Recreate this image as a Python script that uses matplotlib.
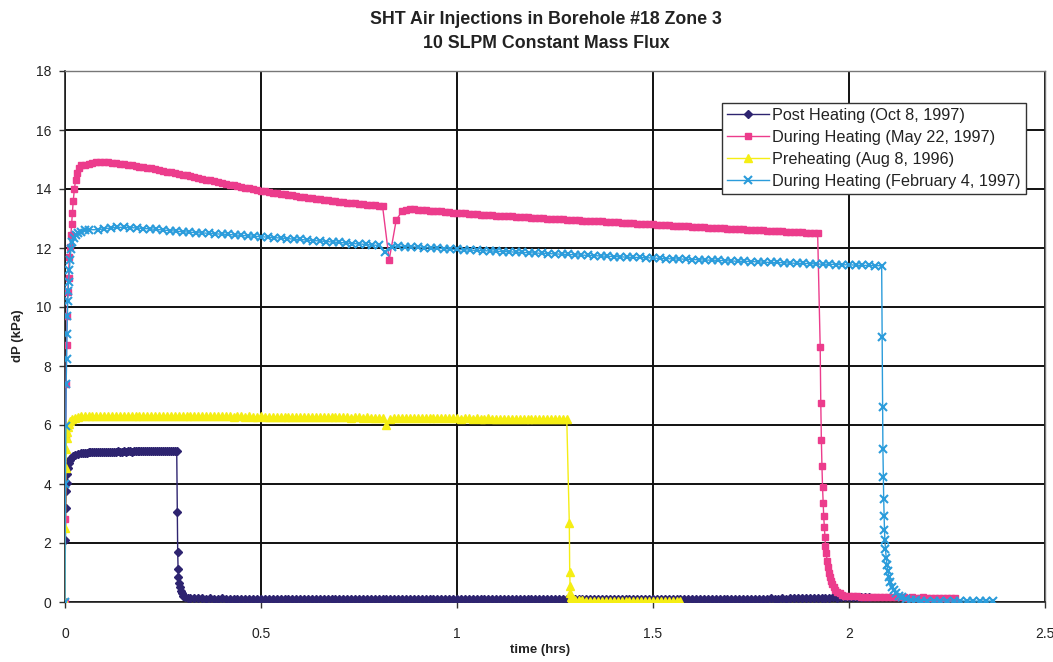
import numpy as np
import matplotlib
matplotlib.use("Agg")
import matplotlib.pyplot as plt

# ---------------- data ----------------
# Post Heating (Oct 8, 1997)
post_rise_t = [0, 0.001, 0.002, 0.003, 0.004, 0.005, 0.007, 0.009, 0.012, 0.016, 0.02, 0.026, 0.032, 0.04]
post_rise_v = [0, 2.1, 3.2, 3.75, 4.05, 4.35, 4.55, 4.7, 4.8, 4.88, 4.95, 5.0, 5.03, 5.05]
post_plat_start, post_plat_step = 0.045, 0.005
post_plat_v = [5.05, 5.06, 5.06, 5.07, 5.07, 5.08, 5.07, 5.08, 5.09, 5.08,
               5.09, 5.09, 5.10, 5.09, 5.10, 5.10, 5.09, 5.10, 5.11, 5.10,
               5.10, 5.11, 5.10, 5.11, 5.11, 5.10, 5.11, 5.12, 5.11, 5.11,
               5.12, 5.11, 5.12, 5.12, 5.11, 5.12, 5.12, 5.13, 5.12, 5.12,
               5.13, 5.12, 5.13, 5.13, 5.12, 5.13, 5.13, 5.12, 5.13]
post_drop_t = [0.2865, 0.2875, 0.2885, 0.2895, 0.291, 0.293, 0.295, 0.298, 0.302, 0.307, 0.313, 0.32]
post_drop_v = [3.05, 1.7, 1.12, 0.85, 0.65, 0.5, 0.38, 0.3, 0.22, 0.17, 0.14, 0.13]
post_tail_start, post_tail_step = 0.33, 0.01
post_tail_v = [0.13, 0.12, 0.12, 0.11, 0.12, 0.11, 0.11, 0.12, 0.11, 0.10,
               0.11, 0.11, 0.10, 0.11, 0.10, 0.11, 0.10, 0.10, 0.11, 0.10,
               0.10, 0.11, 0.10, 0.10, 0.11, 0.10, 0.09, 0.10, 0.10, 0.11,
               0.10, 0.09, 0.10, 0.10, 0.09, 0.10, 0.11, 0.10, 0.09, 0.10,
               0.10, 0.09, 0.10, 0.10, 0.09, 0.10, 0.10, 0.09, 0.10, 0.09,
               0.10, 0.10, 0.09, 0.10, 0.09, 0.10, 0.10, 0.09, 0.10, 0.10,
               0.09, 0.10, 0.09, 0.10, 0.10, 0.09, 0.10, 0.09, 0.10, 0.10,
               0.09, 0.10, 0.10, 0.09, 0.10, 0.09, 0.10, 0.10, 0.09, 0.10,
               0.10, 0.09, 0.10, 0.10, 0.09, 0.10, 0.09, 0.10, 0.10, 0.09,
               0.10, 0.10, 0.09, 0.10, 0.09, 0.10, 0.10, 0.09, 0.10, 0.10,
               0.09, 0.10, 0.10, 0.09, 0.10, 0.10, 0.09, 0.10, 0.09, 0.10,
               0.10, 0.09, 0.10, 0.10, 0.09, 0.10, 0.10, 0.09, 0.10, 0.10,
               0.09, 0.10, 0.10, 0.09, 0.10, 0.09, 0.10, 0.10, 0.09, 0.10,
               0.10, 0.09, 0.10, 0.10, 0.11, 0.10, 0.10, 0.11, 0.10, 0.10,
               0.11, 0.10, 0.11, 0.11, 0.10, 0.11, 0.11, 0.12, 0.11, 0.11,
               0.12, 0.11, 0.12, 0.12, 0.13, 0.12, 0.13, 0.14, 0.13, 0.14,
               0.15, 0.14, 0.15, 0.16, 0.15, 0.16, 0.17, 0.16, 0.17, 0.16,
               0.17, 0.16, 0.17]

# During Heating (May 22, 1997)
may_rise_t = [0, 0.001, 0.002, 0.003, 0.004, 0.005, 0.007, 0.009, 0.011, 0.013,
              0.015, 0.017, 0.019, 0.021, 0.024, 0.027, 0.031, 0.036, 0.042, 0.05]
may_rise_v = [0, 2.8, 5.65, 7.4, 8.7, 9.7, 10.5, 11.0, 11.7, 12.05,
              12.45, 12.8, 13.2, 13.6, 14.0, 14.3, 14.55, 14.7, 14.8, 14.83]
may_platA_start, may_plat_step = 0.06, 0.01
may_platA_v = [14.85, 14.88, 14.90, 14.92, 14.91, 14.90, 14.89, 14.88, 14.86, 14.84,
               14.82, 14.80, 14.78, 14.76, 14.74, 14.72, 14.70, 14.67, 14.65, 14.62,
               14.59, 14.57, 14.54, 14.51, 14.48, 14.46, 14.43, 14.40, 14.37, 14.35,
               14.32, 14.29, 14.26, 14.24, 14.21, 14.18, 14.15, 14.13, 14.10, 14.07,
               14.04, 14.02, 13.99, 13.96, 13.94, 13.92, 13.90, 13.88, 13.86, 13.84,
               13.82, 13.80, 13.78, 13.76, 13.74, 13.72, 13.70, 13.69, 13.67, 13.65,
               13.63, 13.62, 13.60, 13.58, 13.57, 13.55, 13.54, 13.52, 13.51, 13.49,
               13.48, 13.47, 13.46, 13.45, 13.44, 13.43]
may_dip_t = [0.827, 0.845]
may_dip_v = [11.6, 12.95]
may_platB_start = 0.86
may_platB_v = [13.25, 13.30, 13.31, 13.31, 13.30, 13.29, 13.28, 13.27, 13.26, 13.25,
               13.24, 13.22, 13.21, 13.20, 13.19, 13.18, 13.17, 13.16, 13.15, 13.14,
               13.13, 13.12, 13.12, 13.11, 13.10, 13.09, 13.08, 13.08, 13.07, 13.06,
               13.05, 13.05, 13.04, 13.03, 13.02, 13.02, 13.01, 13.00, 12.99, 12.99,
               12.98, 12.97, 12.96, 12.96, 12.95, 12.94, 12.93, 12.93, 12.92, 12.91,
               12.90, 12.90, 12.89, 12.88, 12.87, 12.87, 12.86, 12.85, 12.84, 12.84,
               12.83, 12.82, 12.81, 12.81, 12.80, 12.79, 12.78, 12.78, 12.77, 12.76,
               12.75, 12.75, 12.74, 12.73, 12.72, 12.72, 12.71, 12.70, 12.69, 12.69,
               12.68, 12.67, 12.67, 12.66, 12.65, 12.64, 12.64, 12.63, 12.62, 12.62,
               12.61, 12.60, 12.60, 12.59, 12.58, 12.57, 12.57, 12.56, 12.55, 12.55,
               12.54, 12.53, 12.53, 12.52, 12.51, 12.51, 12.50]
may_drop_t = [1.9265, 1.928, 1.9295, 1.931, 1.9325, 1.934, 1.9355, 1.937, 1.9385, 1.940, 1.942,
              1.944, 1.946, 1.948, 1.951, 1.954, 1.957, 1.961, 1.965, 1.970, 1.976, 1.983, 1.99, 2.0]
may_drop_v = [8.65, 6.75, 5.5, 4.6, 3.9, 3.35, 2.9, 2.55, 2.2, 1.9, 1.65,
              1.4, 1.2, 1.0, 0.85, 0.72, 0.6, 0.5, 0.42, 0.35, 0.3, 0.25, 0.22, 0.2]
may_tail_start = 2.01
may_tail_v = [0.19, 0.19, 0.18, 0.18, 0.18, 0.17, 0.17, 0.17, 0.17, 0.16,
              0.16, 0.16, 0.16, 0.16, 0.15, 0.16, 0.15, 0.15, 0.16, 0.15,
              0.15, 0.15, 0.15, 0.15, 0.15, 0.15, 0.15]

# Preheating (Aug 8, 1996)
pre_rise_t = [0, 0.001, 0.002, 0.003, 0.004, 0.005, 0.007, 0.01, 0.014, 0.019, 0.025, 0.032, 0.04]
pre_rise_v = [0, 2.5, 4.55, 5.2, 5.55, 5.75, 5.92, 6.05, 6.13, 6.2, 6.24, 6.27, 6.29]
pre_plat_start, pre_step = 0.05, 0.01
pre_plat_v = [6.30, 6.31, 6.31, 6.32, 6.31, 6.32, 6.32, 6.31, 6.32, 6.32,
              6.31, 6.32, 6.32, 6.31, 6.31, 6.32, 6.31, 6.31, 6.30, 6.31,
              6.31, 6.30, 6.31, 6.30, 6.30, 6.31, 6.30, 6.30, 6.29, 6.30,
              6.30, 6.29, 6.30, 6.29, 6.29, 6.30, 6.29, 6.29, 6.28, 6.29,
              6.29, 6.28, 6.29, 6.28, 6.28, 6.29, 6.28, 6.28, 6.27, 6.28,
              6.28, 6.27, 6.28, 6.27, 6.27, 6.28, 6.27, 6.27, 6.26, 6.27,
              6.27, 6.26, 6.27, 6.26, 6.26, 6.27, 6.26, 6.26, 6.25, 6.26,
              6.26, 6.25, 6.26, 6.25, 6.25, 6.25, 6.24, 6.00, 6.20, 6.24,
              6.25, 6.24, 6.24, 6.25, 6.24, 6.24, 6.23, 6.24, 6.24, 6.23,
              6.24, 6.23, 6.23, 6.24, 6.23, 6.23, 6.22, 6.23, 6.23, 6.22,
              6.23, 6.22, 6.22, 6.23, 6.22, 6.22, 6.21, 6.22, 6.22, 6.21,
              6.22, 6.21, 6.21, 6.22, 6.21, 6.21, 6.20, 6.21, 6.21, 6.20,
              6.21, 6.20, 6.20, 6.20]
pre_drop_t = [1.2865, 1.2875, 1.2885, 1.2895, 1.291, 1.293, 1.296, 1.30]
pre_drop_v = [2.68, 1.02, 0.55, 0.3, 0.18, 0.12, 0.09, 0.07]
pre_tail_start = 1.31
pre_tail_v = [0.06, 0.06, 0.05, 0.05, 0.05, 0.05, 0.04, 0.05, 0.04, 0.04,
              0.05, 0.04, 0.04, 0.04, 0.04, 0.04, 0.03, 0.04, 0.04, 0.03,
              0.04, 0.03, 0.03, 0.04, 0.03, 0.03, 0.03]

# During Heating (February 4, 1997)
feb_rise_t = [0, 0.001, 0.002, 0.003, 0.004, 0.005, 0.006, 0.007, 0.008, 0.009,
              0.011, 0.013, 0.015, 0.018, 0.022, 0.027, 0.033, 0.04, 0.05, 0.06]
feb_rise_v = [0, 4.0, 5.95, 7.4, 8.25, 9.1, 9.7, 10.2, 10.55, 10.85,
              11.25, 11.6, 11.95, 12.2, 12.35, 12.45, 12.5, 12.55, 12.6, 12.62]
feb_plat_first_min = 5          # plateau sampled once a minute
feb_plat_v = [12.62, 12.65, 12.68, 12.70, 12.70, 12.69, 12.68, 12.66, 12.65, 12.63,
              12.61, 12.59, 12.57, 12.55, 12.54, 12.52, 12.51, 12.50, 12.48, 12.47,
              12.46, 12.44, 12.43, 12.41, 12.40, 12.38, 12.37, 12.35, 12.34, 12.32,
              12.30, 12.29, 12.27, 12.25, 12.24, 12.22, 12.20, 12.19, 12.17, 12.15,
              12.14, 12.12, 12.10, 12.09, 11.85, 12.05, 12.06, 12.05, 12.04, 12.03,
              12.01, 12.00, 11.99, 11.98, 11.96, 11.95, 11.94, 11.93, 11.92, 11.91,
              11.90, 11.89, 11.88, 11.87, 11.86, 11.85, 11.84, 11.83, 11.82, 11.81,
              11.80, 11.79, 11.78, 11.77, 11.76, 11.75, 11.74, 11.73, 11.72, 11.71,
              11.70, 11.69, 11.68, 11.68, 11.67, 11.66, 11.65, 11.64, 11.63, 11.63,
              11.62, 11.61, 11.60, 11.59, 11.59, 11.58, 11.57, 11.56, 11.55, 11.55,
              11.54, 11.53, 11.52, 11.51, 11.51, 11.50, 11.49, 11.48, 11.48, 11.47,
              11.46, 11.45, 11.45, 11.44, 11.43, 11.43, 11.42, 11.41, 11.41, 11.40,
              11.40]
feb_drop_t = [2.0845, 2.0855, 2.0865, 2.0875, 2.0885, 2.0895, 2.0905, 2.0915, 2.093, 2.095, 2.097,
              2.099, 2.102, 2.105, 2.109, 2.114, 2.12, 2.127, 2.135, 2.145, 2.157, 2.17]
feb_drop_v = [8.98, 6.6, 5.2, 4.25, 3.5, 2.9, 2.45, 2.1, 1.8, 1.5, 1.25,
              1.05, 0.85, 0.68, 0.52, 0.4, 0.3, 0.22, 0.16, 0.11, 0.08, 0.06]
feb_tail_first_min = 131
feb_tail_v = [0.05, 0.05, 0.04, 0.04, 0.04, 0.03, 0.04, 0.03, 0.03, 0.03, 0.03, 0.03]

labels = ["Post Heating (Oct 8, 1997)", "During Heating (May 22, 1997)",
          "Preheating (Aug 8, 1996)", "During Heating (February 4, 1997)"]
title_lines = ["SHT Air Injections in Borehole #18 Zone 3", "10 SLPM Constant Mass Flux"]


def regular(start, step, vals):
    return list(start + step * np.arange(len(vals)))


post_t = post_rise_t + regular(post_plat_start, post_plat_step, post_plat_v) + post_drop_t + \
    regular(post_tail_start, post_tail_step, post_tail_v)
post_v = post_rise_v + post_plat_v + post_drop_v + post_tail_v

may_t = may_rise_t + regular(may_platA_start, may_plat_step, may_platA_v) + may_dip_t + \
    regular(may_platB_start, may_plat_step, may_platB_v) + may_drop_t + \
    regular(may_tail_start, may_plat_step, may_tail_v)
may_v = may_rise_v + may_platA_v + may_dip_v + may_platB_v + may_drop_v + may_tail_v

pre_t = pre_rise_t + regular(pre_plat_start, pre_step, pre_plat_v) + pre_drop_t + \
    regular(pre_tail_start, pre_step, pre_tail_v)
pre_v = pre_rise_v + pre_plat_v + pre_drop_v + pre_tail_v

feb_t = feb_rise_t + regular(feb_plat_first_min / 60, 1 / 60, feb_plat_v) + feb_drop_t + \
    regular(feb_tail_first_min / 60, 1 / 60, feb_tail_v)
feb_v = feb_rise_v + feb_plat_v + feb_drop_v + feb_tail_v

# ---------------- drawing ----------------
W, H = 1053, 662
fig = plt.figure(figsize=(W / 100, H / 100), dpi=100)
L, R, T, B = 65, 1045, 71, 602
ax = fig.add_axes([L / W, 1 - B / H, (R - L) / W, (B - T) / H])

c_post = "#2e2470"
c_may = "#ec3c8c"
c_pre = "#f5ee14"
c_feb = "#2b9cdb"

ax.plot(post_t, post_v, color=c_post, lw=1.0, marker="D", ms=4.3, mec=c_post, mfc=c_post, label=labels[0], zorder=3)
ax.plot(may_t, may_v, color=c_may, lw=1.0, marker="s", ms=4.8, mec=c_may, mfc=c_may, label=labels[1], zorder=3)
ax.plot(pre_t, pre_v, color=c_pre, lw=1.0, marker="^", ms=5.5, mec=c_pre, mfc=c_pre, label=labels[2], zorder=3)
ax.plot(feb_t, feb_v, color=c_feb, lw=1.0, marker="x", ms=5.5, mew=1.5, mec=c_feb, label=labels[3], zorder=3)

ax.set_xlim(0, 2.5)
ax.set_ylim(0, 18)
ax.set_xticks([0, 0.5, 1, 1.5, 2, 2.5])
ax.set_xticklabels(["0", "0.5", "1", "1.5", "2", "2.5"])
ax.set_yticks(np.arange(0, 19, 2))
ax.grid(True, color="#111111", lw=1.4, zorder=1)
ax.set_axisbelow(True)

tick_family = ["Liberation Sans", "DejaVu Sans"]
for lab in ax.get_xticklabels() + ax.get_yticklabels():
    lab.set_fontfamily(tick_family)
    lab.set_fontsize(10)
    lab.set_color("#222222")
ax.tick_params(axis="both", direction="out", length=4, width=1, color="#333333")
ax.tick_params(axis="x", pad=14)
ax.tick_params(axis="y", pad=6)

for s in ["left", "bottom"]:
    ax.spines[s].set_color("#222222")
    ax.spines[s].set_linewidth(1.2)
for s in ["top", "right"]:
    ax.spines[s].set_color("#777777")
    ax.spines[s].set_linewidth(1.0)

bold_family = ["Liberation Sans", "DejaVu Sans"]
fig.text(546 / W, 1 - 19 / H, title_lines[0], ha="center", va="center", fontsize=12.8,
         fontweight="bold", family=bold_family, color="#222222")
fig.text(546 / W, 1 - 43 / H, title_lines[1], ha="center", va="center", fontsize=12.8,
         fontweight="bold", family=bold_family, color="#222222")
fig.text(540 / W, 1 - 650 / H, "time (hrs)", ha="center", va="center", fontsize=9.5,
         fontweight="bold", family=bold_family, color="#222222")
fig.text(18 / W, 1 - 336 / H, "dP (kPa)", ha="center", va="center", fontsize=9.5,
         fontweight="bold", family=bold_family, color="#222222", rotation=90)

leg = ax.legend(loc="upper left", bbox_to_anchor=(722 / W, 1 - 103 / H), bbox_transform=fig.transFigure,
                frameon=True, fancybox=False, edgecolor="#333333", framealpha=1, borderaxespad=0,
                borderpad=0.3, labelspacing=0.43, handlelength=2.6, handletextpad=0.2,
                prop=dict(family=["Liberation Sans", "DejaVu Sans"], size=11.7))
leg.get_frame().set_linewidth(1.0)
for t in leg.get_texts():
    t.set_color("#222222")

fig.savefig("out.png", dpi=100)
